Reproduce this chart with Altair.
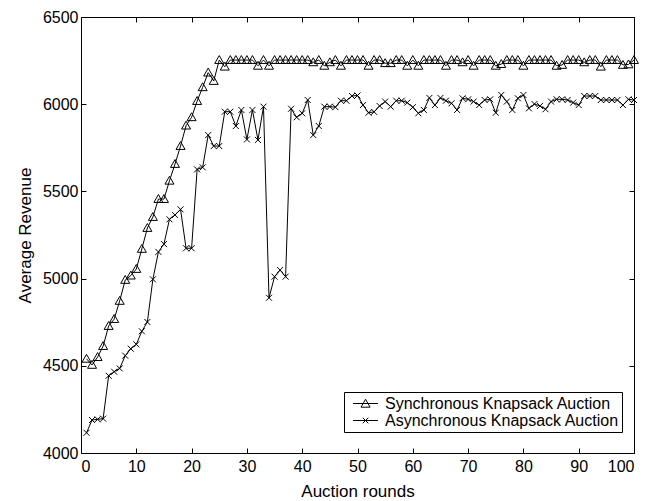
import altair as alt
import pandas as pd

rounds = list(range(1, 101))

sync_revenue = [
    4540, 4505, 4550, 4613, 4728, 4768, 4872, 4992, 5017, 5055,
    5170, 5290, 5353, 5456, 5456, 5561, 5657, 5760, 5877, 5925,
    6018, 6097, 6181, 6133, 6253, 6215, 6253, 6253, 6253, 6253,
    6253, 6220, 6253, 6220, 6253, 6253, 6253, 6253, 6253, 6253,
    6253, 6240, 6253, 6220, 6240, 6253, 6220, 6253, 6253, 6253,
    6253, 6220, 6253, 6253, 6235, 6235, 6253, 6253, 6220, 6253,
    6220, 6253, 6253, 6253, 6253, 6220, 6253, 6253, 6240, 6253,
    6220, 6253, 6253, 6253, 6220, 6230, 6253, 6253, 6253, 6220,
    6253, 6253, 6253, 6253, 6253, 6220, 6225, 6253, 6253, 6253,
    6240, 6253, 6253, 6215, 6253, 6253, 6253, 6225, 6228, 6253,
]

async_revenue = [
    4116, 4189, 4193, 4197, 4443, 4466, 4485, 4558, 4598, 4623,
    4698, 4751, 4996, 5153, 5198, 5340, 5365, 5397, 5174, 5174,
    5626, 5638, 5823, 5760, 5760, 5957, 5957, 5875, 5967, 5798,
    5967, 5795, 5986, 4890, 5011, 5049, 5011, 5974, 5925, 5948,
    6024, 5823, 5875, 5986, 5986, 5983, 6020, 6020, 6047, 6050,
    5995, 5951, 5956, 5990, 6015, 5986, 6020, 6020, 6009, 5983,
    5948, 5967, 6036, 5995, 6036, 6020, 6005, 5967, 6034, 6028,
    6015, 5995, 6024, 6028, 5951, 6053, 6015, 5967, 6034, 6053,
    5976, 6001, 5990, 5971, 6015, 6028, 6028, 6024, 6009, 5995,
    6047, 6047, 6047, 6024, 6024, 6024, 6024, 5995, 6028, 6024,
]

series_names = ["Synchronous Knapsack Auction", "Asynchronous Knapsack Auction"]
x_ticks = list(range(0, 101, 10))
y_ticks = list(range(4000, 6501, 500))

df = pd.DataFrame({
    "round": rounds + rounds,
    "revenue": sync_revenue + async_revenue,
    "series": [series_names[0]] * len(rounds) + [series_names[1]] * len(rounds),
})

FONT = "Liberation Sans"
TRI = "M0,-1L1,0.75L-1,0.75Z"
XMARK = "M-1,-1L1,1M-1,1L1,-1"
LEG_TRI = "M-0.7,0L0.65,0M-0.025,-0.23L0.22,0.2L-0.27,0.2Z"
LEG_X = "M-0.7,0L0.65,0M-0.175,-0.15L0.125,0.15M-0.175,0.15L0.125,-0.15"

xs = alt.Scale(domain=[0, 100], nice=False, zero=False)
ys = alt.Scale(domain=[4000, 6500], nice=False, zero=False)

common = dict(domain=False, ticks=True, tickColor="black", tickWidth=1, tickSize=5,
              offset=-5, grid=False, labelFont=FONT, labelFontSize=16, labelColor="black",
              titleFont=FONT, titleFontSize=17, titleColor="black", titleFontWeight="normal")

x_bottom = alt.Axis(orient="bottom", values=x_ticks, format="d", labelPadding=5,
                    title="Auction rounds", titlePadding=9, **common)
y_left = alt.Axis(orient="left", values=y_ticks, format="d", labelPadding=3,
                  title="Average Revenue", titlePadding=8, **common)
x_top = alt.Axis(orient="top", values=x_ticks, labels=False, title="", **common)
y_right = alt.Axis(orient="right", values=y_ticks, labels=False, title="", **common)

base = alt.Chart(df)

lines = base.mark_line(color="black", strokeWidth=1).encode(
    x=alt.X("round:Q", scale=xs, axis=x_bottom),
    y=alt.Y("revenue:Q", scale=ys, axis=y_left),
    detail="series:N",
)

pts_sync = base.transform_filter(
    alt.datum.series == series_names[0]
).mark_point(shape=TRI, size=81, filled=False, color="black", strokeWidth=1, opacity=1).encode(
    x=alt.X("round:Q", scale=xs, axis=None),
    y=alt.Y("revenue:Q", scale=ys, axis=None),
)

pts_async = base.transform_filter(
    alt.datum.series == series_names[1]
).mark_point(shape=XMARK, size=36, filled=False, color="black", strokeWidth=1, opacity=1).encode(
    x=alt.X("round:Q", scale=xs, axis=None),
    y=alt.Y("revenue:Q", scale=ys, axis=None),
)

legend_layer = base.transform_filter("false").mark_point(
    filled=False, color="black", strokeWidth=1, opacity=1
).encode(
    x=alt.X("round:Q", scale=xs, axis=x_top),
    y=alt.Y("revenue:Q", scale=ys, axis=y_right),
    shape=alt.Shape(
        "series:N",
        scale=alt.Scale(domain=series_names, range=[LEG_TRI, LEG_X]),
        legend=alt.Legend(
            title=None, orient="none", legendX=263, legendY=375, direction="vertical",
            padding=3, strokeColor="black", fillColor="white", cornerRadius=0,
            symbolSize=1369, symbolStrokeWidth=1, labelOffset=0,
            clipHeight=17, rowPadding=0, labelFont=FONT, labelFontSize=16,
            labelColor="black", labelLimit=400,
        ),
    ),
)

chart = alt.layer(lines, pts_sync, pts_async, legend_layer).resolve_axis(
    x="independent", y="independent"
).properties(
    width=553, height=436,
    padding={"left": 73, "top": 9, "right": 19, "bottom": 48},
    autosize=alt.AutoSizeParams(type="none"),
    background="white",
).configure_view(stroke="black", strokeWidth=1)

chart.save("out.html", embed_options={"renderer": "svg", "actions": False})
